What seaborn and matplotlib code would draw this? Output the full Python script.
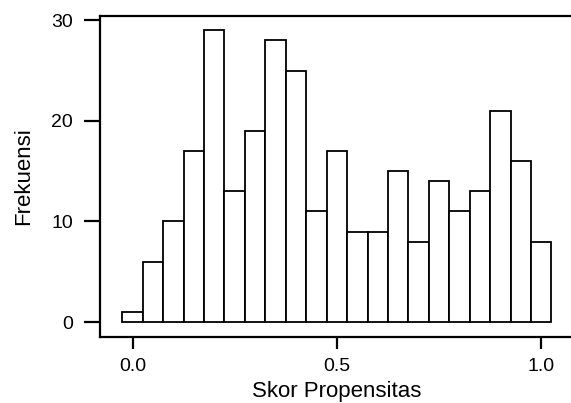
import matplotlib
matplotlib.use("Agg")
import matplotlib.pyplot as plt
import seaborn as sns
import numpy as np

# histogram of propensity scores (bin width 0.05)
bin_edges = [-0.025 + 0.05 * i for i in range(22)]
counts = [1, 6, 10, 17, 29, 13, 19, 28, 25, 11, 17, 9, 9, 15, 8, 14, 11, 13, 21, 16, 8]
bin_centers = [(a + b) / 2 for a, b in zip(bin_edges[:-1], bin_edges[1:])]
x_ticks = [0.0, 0.5, 1.0]
y_ticks = [0, 10, 20, 30]

sns.set_style("ticks")
plt.rcParams['font.family'] = ['Liberation Sans', 'DejaVu Sans']

fig = plt.figure(figsize=(5.71, 4.03), dpi=100)
ax = fig.add_axes([0.175, 0.1645, 0.83, 0.795])

sns.histplot(x=bin_centers, weights=counts, bins=bin_edges, ax=ax,
             color='white', edgecolor='black', linewidth=1.3, alpha=1)

ax.set_xlim(-0.0797, 1.0797)
ax.set_ylim(-1.46, 30.4)
ax.set_xticks(x_ticks)
ax.set_xticklabels(['0.0', '0.5', '1.0'])
ax.set_yticks(y_ticks)

for s in ['left', 'top', 'bottom']:
    ax.spines[s].set_linewidth(1.6)
    ax.spines[s].set_color('black')
ax.spines['right'].set_visible(False)

ax.tick_params(axis='y', length=11.5, width=1.6, pad=8, labelsize=14, colors='black')
ax.tick_params(axis='x', length=8.6, width=1.6, pad=7, labelsize=14, colors='black')

ax.set_xlabel('Skor Propensitas', fontsize=16, labelpad=4, color='black')
ax.set_ylabel('Frekuensi', fontsize=16, labelpad=12, color='black')

fig.savefig('out.png', dpi=100)
